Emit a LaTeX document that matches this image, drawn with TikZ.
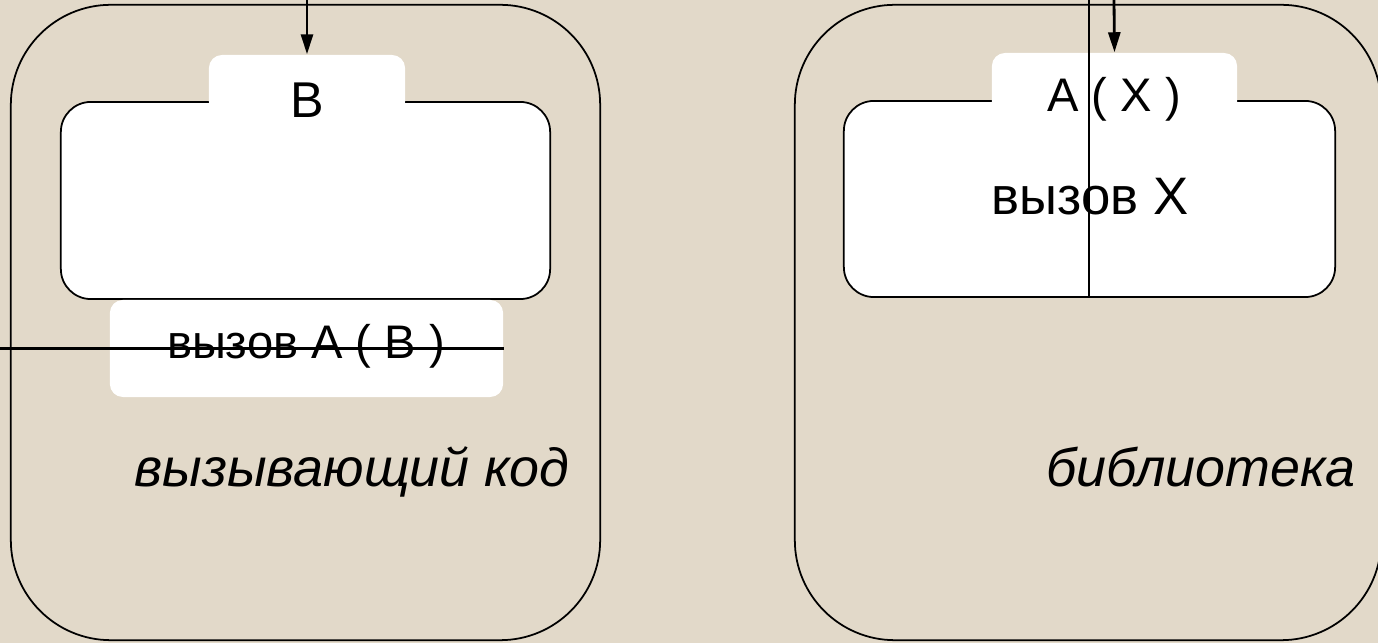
\documentclass[tikz,border=0pt]{standalone}
\usepackage{fontspec}
\setmainfont{Liberation Sans}
\definecolor{paperBeige}{RGB}{226,217,201}
\usetikzlibrary{arrows.meta,positioning}

\begin{document}
\begin{tikzpicture}[
  x=0.01cm, y=-0.01cm,
  outerbox/.style={draw, line width=0.5pt, rounded corners=1cm, inner sep=0pt},
  bodybox/.style={draw, line width=0.5pt, fill=white, rounded corners=0.3cm, inner sep=0pt},
  tabbox/.style={fill=white, rounded corners=0.13cm, inner sep=0pt},
  label/.style={anchor=base, inner sep=0pt},
  link/.style={line width=0.8pt},
  callarrow/.style={link, -{Triangle[length=2mm, width=1.2mm]}}
]
  \fill[paperBeige] (0,0) rectangle (1378,643);
  \useasboundingbox (0,0) rectangle (1378,643);

  % caller side
  \node[outerbox, minimum width=5.89cm, minimum height=6.35cm] (caller)     at (305.5,322.5) {};
  \node[bodybox, minimum width=4.89cm, minimum height=1.97cm]  (callerbody) at (305.5,200.5) {};
  \node[tabbox, minimum width=1.96cm, minimum height=0.6cm]    (callertab)  at (307,85) {};
  \node[tabbox, minimum width=3.93cm, minimum height=0.97cm]   (callbox)    at (306.5,348.5) {};
  \node[label, font=\fontsize{14.3}{17}\selectfont] (callerarg) at (307,118) {B};
  \node[label, font=\fontsize{13.4}{16}\selectfont] (calltext) at (306,359) {вызов A ( B )};
  \node[label, font=\fontsize{15.3}{18}\selectfont\itshape] (callername) at (352,487) {вызывающий код};

  % library side
  \node[outerbox, minimum width=5.86cm, minimum height=6.35cm] (library) at (1088,322.5) {};
  \node[bodybox, minimum width=4.91cm, minimum height=1.96cm]  (libbody) at (1089.5,199) {};
  \node[tabbox, minimum width=2.45cm, minimum height=0.62cm]   (libtab)  at (1114.5,84) {};
  \node[label, font=\fontsize{13.4}{16}\selectfont] (libhead) at (1114,112) {A ( X )};
  \node[label, font=\fontsize{15}{18}\selectfont]   (libcall) at (1090,215) {вызов X};
  \node[label, font=\fontsize{15.3}{18}\selectfont\itshape] (libname) at (1201,487) {библиотека};

  % connectors
  \coordinate (intoB)  at (307,0);
  \coordinate (intoA)  at (1114,0);
  \coordinate (outX)   at (1089,0);
  \coordinate (fromA)  at (0,348.5);
  \draw[callarrow] (intoB) -- (callertab.north);
  \draw[callarrow] (intoA) -- (libtab.north);
  \draw[link] (fromA) -- (callbox.east);
  \draw[link] (outX) -- (outX |- libbody.south);
\end{tikzpicture}
\end{document}
